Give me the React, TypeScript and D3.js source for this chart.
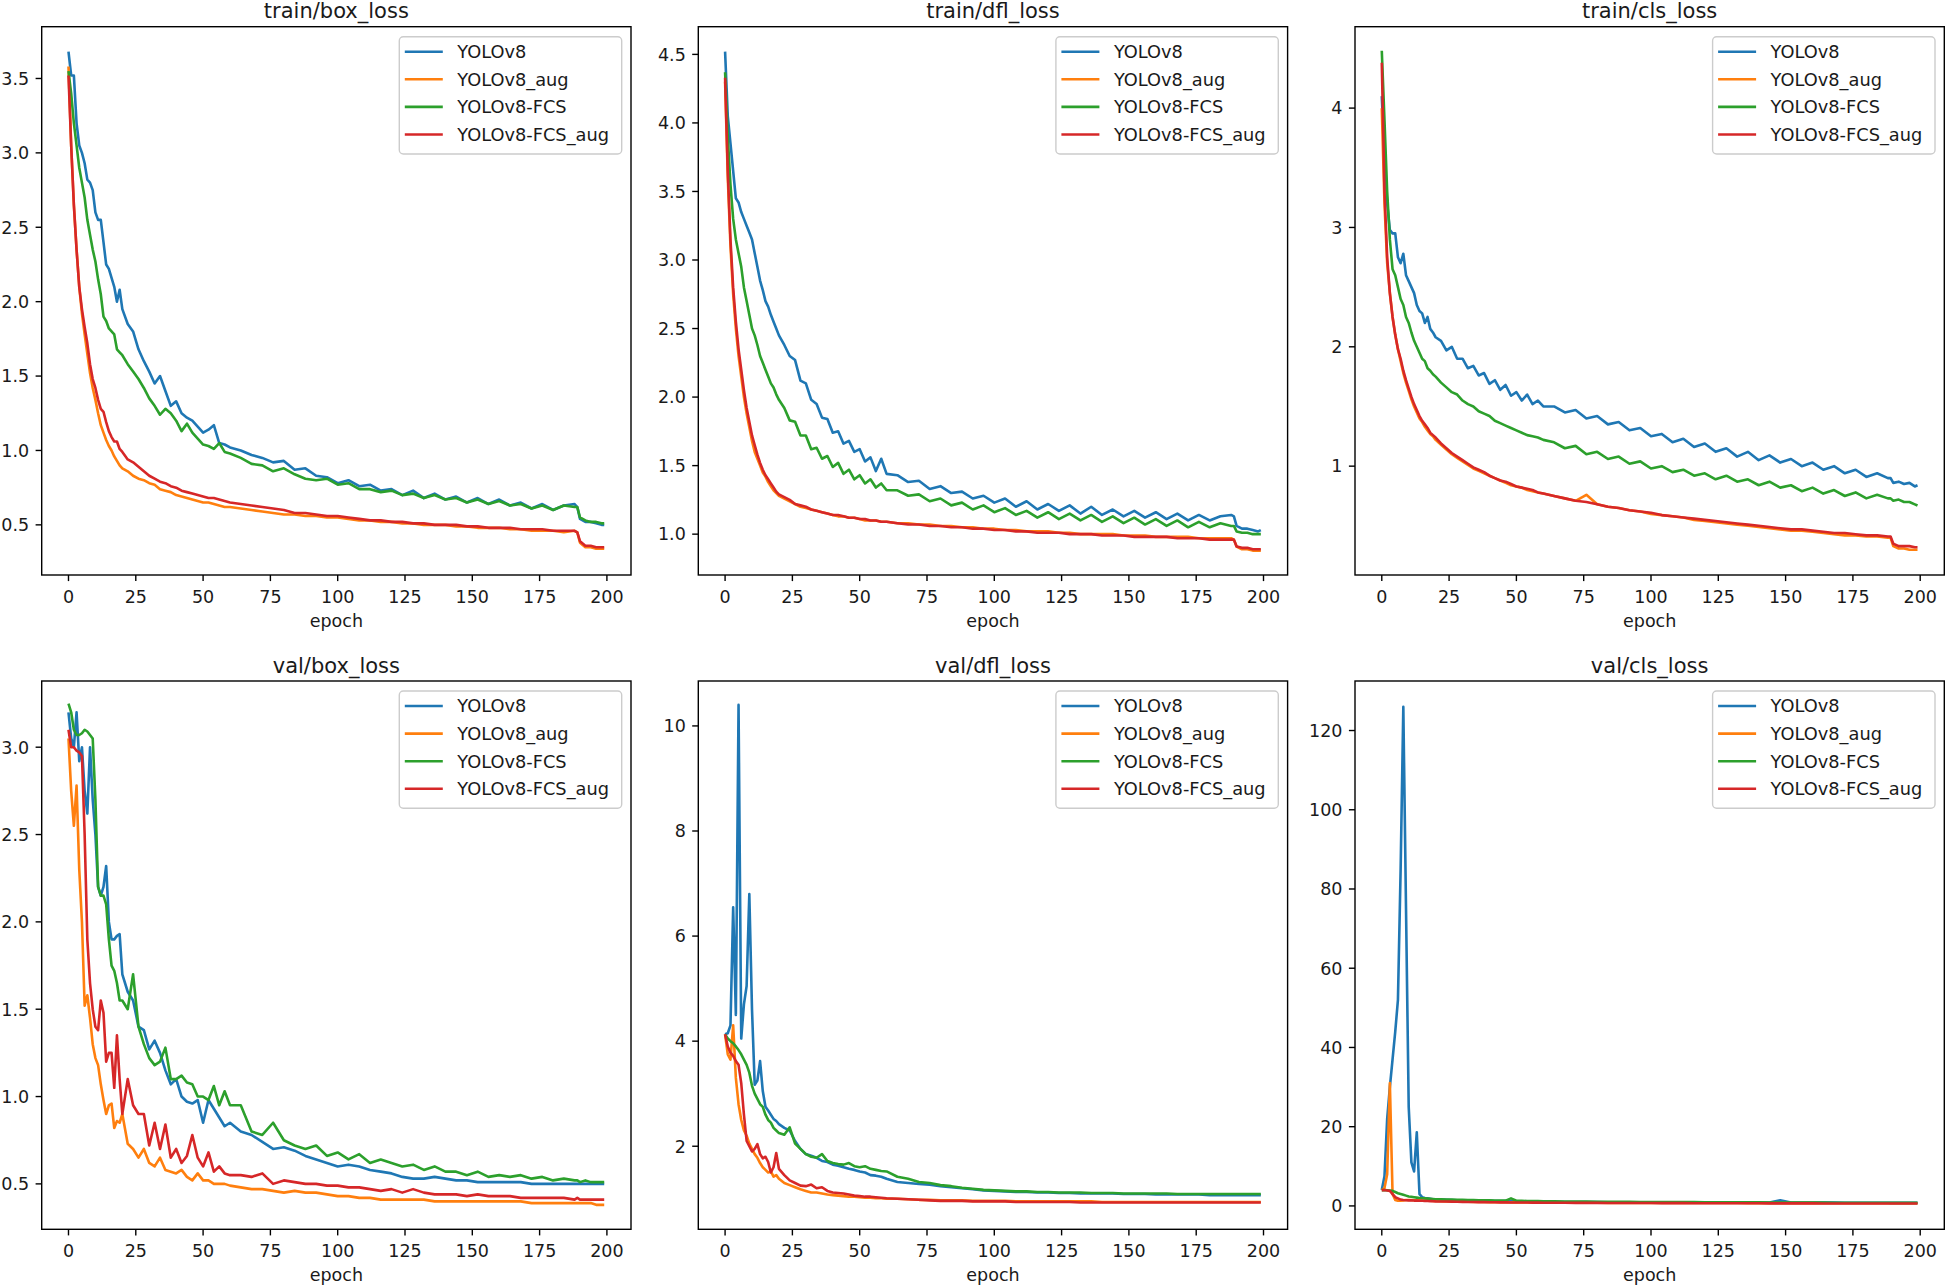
import * as d3 from "d3";

const EPOCHS = [
  0, 1, 2, 3, 4, 5, 6, 7, 8, 9, 10, 11, 12, 13, 14, 15, 16, 17, 18, 19, 20,
  22, 24, 26, 28, 30, 32, 34, 36, 38, 40, 42, 44, 46, 48, 50, 52, 54, 56, 58, 60,
  64, 68, 72, 76, 80, 84, 88, 92, 96, 100, 104, 108, 112, 116, 120, 124, 128, 132, 136, 140, 144, 148, 152, 156, 160, 164, 168, 172, 176, 180, 184, 188,
  189, 190, 192, 194, 196, 198, 199,
];

const SERIES_NAMES = ["YOLOv8", "YOLOv8_aug", "YOLOv8-FCS", "YOLOv8-FCS_aug"];
const SERIES_COLORS = ["#1f77b4", "#ff7f0e", "#2ca02c", "#d62728"];
const X_TICKS = [0, 25, 50, 75, 100, 125, 150, 175, 200];

// train/box_loss
const trainBoxV8 = [
  3.68, 3.52, 3.52, 3.2, 3.05, 3.0, 2.93, 2.82, 2.8, 2.75, 2.6, 2.55, 2.55, 2.4, 2.25, 2.22, 2.16, 2.1, 2.0, 2.08, 1.95,
  1.85, 1.8, 1.68, 1.6, 1.53, 1.45, 1.5, 1.4, 1.3, 1.33, 1.25, 1.22, 1.2, 1.16, 1.12, 1.14, 1.17, 1.05, 1.04, 1.02,
  1.0, 0.97, 0.95, 0.92, 0.93, 0.87, 0.88, 0.83, 0.82, 0.78, 0.8, 0.76, 0.77, 0.73, 0.74, 0.7, 0.73, 0.68, 0.71, 0.67, 0.69, 0.65, 0.68, 0.64, 0.67, 0.63, 0.65, 0.61, 0.64, 0.6, 0.63, 0.64,
  0.62, 0.54, 0.52, 0.52, 0.51, 0.5, 0.5,
];
const trainBoxAug = [
  3.58, 3.05, 2.65, 2.35, 2.1, 1.92, 1.78, 1.65, 1.52, 1.42, 1.34, 1.25, 1.17, 1.12, 1.07, 1.03, 1.0, 0.96, 0.93, 0.9, 0.88,
  0.86, 0.83, 0.81, 0.8, 0.78, 0.77, 0.74, 0.73, 0.72, 0.7, 0.69, 0.68, 0.67, 0.66, 0.65, 0.65, 0.64, 0.63, 0.62, 0.62,
  0.61, 0.6, 0.59, 0.58, 0.57, 0.57, 0.56, 0.56, 0.55, 0.55, 0.54, 0.53, 0.53, 0.52, 0.52, 0.51, 0.51, 0.5, 0.5, 0.5, 0.49, 0.49, 0.48, 0.48, 0.48, 0.47, 0.47, 0.46, 0.46, 0.46, 0.45, 0.46,
  0.45, 0.38, 0.35, 0.35, 0.34, 0.34, 0.34,
];
const trainBoxFcs = [
  3.55, 3.4, 3.2, 3.05, 2.9, 2.8, 2.7, 2.55, 2.45, 2.35, 2.27, 2.15, 2.05, 1.9, 1.87, 1.82, 1.8, 1.78, 1.68, 1.66, 1.64,
  1.58, 1.53, 1.48, 1.42, 1.35, 1.3, 1.24, 1.28, 1.25, 1.2, 1.13, 1.18, 1.12, 1.08, 1.04, 1.03, 1.01, 1.05, 0.99, 0.98,
  0.95, 0.91, 0.9, 0.86, 0.88, 0.84, 0.81, 0.8, 0.81, 0.77, 0.78, 0.74, 0.74, 0.72, 0.73, 0.7, 0.71, 0.68, 0.7, 0.67, 0.68, 0.65, 0.67, 0.64, 0.66, 0.63, 0.64, 0.61, 0.63, 0.6, 0.63, 0.62,
  0.62, 0.55, 0.53, 0.52, 0.52, 0.51, 0.51,
];
const trainBoxFcsAug = [
  3.52, 3.05, 2.65, 2.35, 2.1, 1.95, 1.83, 1.72, 1.58, 1.48, 1.42, 1.34, 1.28, 1.26, 1.19, 1.13, 1.09, 1.06, 1.06, 1.01, 0.99,
  0.94, 0.92, 0.89, 0.86, 0.83, 0.81, 0.79, 0.78, 0.76, 0.75, 0.73, 0.72, 0.71, 0.7, 0.69, 0.68, 0.68, 0.67, 0.66, 0.65,
  0.64, 0.63, 0.62, 0.61, 0.6, 0.58, 0.58, 0.57, 0.56, 0.56, 0.55, 0.54, 0.53, 0.53, 0.52, 0.52, 0.51, 0.51, 0.5, 0.5, 0.5, 0.49, 0.49, 0.48, 0.48, 0.48, 0.47, 0.47, 0.47, 0.46, 0.46, 0.46,
  0.45, 0.39, 0.36, 0.36, 0.35, 0.35, 0.35,
];

// train/dfl_loss
const trainDflV8 = [
  4.52, 4.05, 3.85, 3.65, 3.45, 3.42, 3.35, 3.3, 3.25, 3.2, 3.15, 3.05, 2.95, 2.85, 2.78, 2.7, 2.66, 2.6, 2.55, 2.5, 2.45,
  2.38, 2.3, 2.27, 2.12, 2.1, 1.98, 1.95, 1.85, 1.84, 1.74, 1.75, 1.66, 1.68, 1.6, 1.62, 1.53, 1.56, 1.46, 1.55, 1.44,
  1.43, 1.38, 1.39, 1.33, 1.35, 1.3, 1.31, 1.26, 1.28, 1.23, 1.26, 1.2, 1.24, 1.18, 1.22, 1.17, 1.21, 1.15, 1.2, 1.14, 1.18, 1.13, 1.17, 1.12, 1.16, 1.11, 1.15, 1.1, 1.14, 1.1, 1.13, 1.14,
  1.13, 1.06, 1.04, 1.04, 1.03, 1.02, 1.03,
];
const trainDflAug = [
  4.3, 3.6, 3.1, 2.75, 2.5, 2.3, 2.15, 2.0, 1.88, 1.78, 1.68, 1.6, 1.55, 1.5, 1.45, 1.42, 1.38, 1.35, 1.32, 1.3, 1.28,
  1.26, 1.24, 1.22, 1.2, 1.19, 1.18, 1.17, 1.16, 1.15, 1.14, 1.13, 1.13, 1.12, 1.12, 1.11, 1.1, 1.1, 1.1, 1.09, 1.09,
  1.08, 1.08, 1.07, 1.07, 1.06, 1.06, 1.05, 1.05, 1.04, 1.04, 1.03, 1.03, 1.02, 1.02, 1.02, 1.01, 1.01, 1.0, 1.0, 1.0, 1.0, 0.99, 0.99, 0.99, 0.98, 0.98, 0.98, 0.98, 0.97, 0.97, 0.97, 0.97,
  0.96, 0.91, 0.89, 0.89, 0.88, 0.88, 0.88,
];
const trainDflFcs = [
  4.37, 3.9, 3.55, 3.3, 3.15, 3.05, 2.95, 2.8, 2.7, 2.6, 2.5, 2.45, 2.38, 2.3, 2.25, 2.2, 2.15, 2.1, 2.07, 2.02, 1.98,
  1.92, 1.83, 1.82, 1.72, 1.72, 1.62, 1.63, 1.55, 1.57, 1.49, 1.52, 1.44, 1.47, 1.4, 1.43, 1.37, 1.4, 1.34, 1.37, 1.32,
  1.32, 1.28, 1.29, 1.24, 1.26, 1.21, 1.23, 1.18, 1.21, 1.16, 1.19, 1.14, 1.17, 1.12, 1.16, 1.11, 1.15, 1.1, 1.14, 1.09, 1.13, 1.08, 1.12, 1.07, 1.11, 1.06, 1.1, 1.05, 1.09, 1.05, 1.08, 1.06,
  1.06, 1.02, 1.01, 1.01, 1.0, 1.0, 1.0,
];
const trainDflFcsAug = [
  4.33, 3.65, 3.15, 2.8, 2.55, 2.35, 2.2, 2.05, 1.92, 1.82, 1.72, 1.65, 1.58, 1.52, 1.47, 1.43, 1.4, 1.37, 1.34, 1.31, 1.29,
  1.27, 1.25, 1.22, 1.21, 1.2, 1.18, 1.17, 1.16, 1.15, 1.14, 1.14, 1.13, 1.12, 1.12, 1.11, 1.11, 1.1, 1.1, 1.09, 1.09,
  1.08, 1.07, 1.07, 1.06, 1.06, 1.05, 1.05, 1.04, 1.04, 1.03, 1.03, 1.02, 1.02, 1.01, 1.01, 1.01, 1.0, 1.0, 1.0, 0.99, 0.99, 0.99, 0.98, 0.98, 0.98, 0.98, 0.97, 0.97, 0.97, 0.96, 0.96, 0.96,
  0.96, 0.91, 0.9, 0.9, 0.89, 0.89, 0.89,
];

// train/cls_loss
const trainClsV8 = [
  4.1, 3.6, 3.2, 2.98, 2.95, 2.95, 2.75, 2.7, 2.78, 2.6, 2.55, 2.5, 2.45, 2.35, 2.3, 2.28, 2.2, 2.25, 2.15, 2.12, 2.08,
  2.05, 1.97, 2.0, 1.9, 1.9, 1.82, 1.84, 1.76, 1.78, 1.69, 1.72, 1.64, 1.68, 1.59, 1.62, 1.55, 1.6, 1.52, 1.55, 1.5,
  1.5, 1.45, 1.47, 1.4, 1.42, 1.35, 1.37, 1.3, 1.32, 1.25, 1.27, 1.2, 1.23, 1.16, 1.19, 1.12, 1.15, 1.08, 1.12, 1.05, 1.09, 1.03, 1.06, 1.0, 1.03, 0.97, 1.0, 0.94, 0.97, 0.91, 0.94, 0.9,
  0.9, 0.86, 0.87, 0.85, 0.86, 0.83, 0.84,
];
const trainClsAug = [
  4.0, 3.2, 2.7, 2.45, 2.25, 2.1, 1.98, 1.88, 1.78, 1.7, 1.63, 1.56, 1.5, 1.45, 1.4, 1.37, 1.33, 1.3, 1.27, 1.25, 1.22,
  1.18, 1.14, 1.1, 1.07, 1.04, 1.01, 0.98, 0.96, 0.94, 0.92, 0.9, 0.88, 0.86, 0.84, 0.83, 0.82, 0.8, 0.79, 0.78, 0.77,
  0.75, 0.73, 0.71, 0.76, 0.68, 0.66, 0.65, 0.63, 0.62, 0.6, 0.59, 0.58, 0.57, 0.55, 0.54, 0.53, 0.52, 0.51, 0.5, 0.49, 0.48, 0.47, 0.46, 0.46, 0.45, 0.44, 0.43, 0.42, 0.42, 0.41, 0.41, 0.4,
  0.4, 0.33, 0.31, 0.31, 0.3, 0.3, 0.3,
];
const trainClsFcs = [
  4.48, 3.9, 3.3, 2.9, 2.65, 2.6, 2.5, 2.4, 2.35, 2.25, 2.2, 2.12, 2.05, 2.0, 1.95, 1.9, 1.88, 1.82, 1.8, 1.77, 1.75,
  1.7, 1.66, 1.62, 1.6, 1.55, 1.52, 1.5, 1.46, 1.44, 1.42, 1.38, 1.36, 1.34, 1.32, 1.3, 1.28, 1.26, 1.25, 1.24, 1.22,
  1.2, 1.15, 1.17, 1.1, 1.12, 1.06, 1.08, 1.02, 1.04, 0.98, 1.0, 0.95, 0.97, 0.92, 0.94, 0.89, 0.92, 0.87, 0.89, 0.84, 0.87, 0.82, 0.84, 0.79, 0.82, 0.77, 0.8, 0.75, 0.78, 0.73, 0.76, 0.73,
  0.73, 0.71, 0.72, 0.7, 0.7, 0.68, 0.67,
];
const trainClsFcsAug = [
  4.38, 3.3, 2.75, 2.45, 2.25, 2.1, 1.98, 1.9, 1.8, 1.72, 1.65, 1.58, 1.52, 1.47, 1.42, 1.38, 1.35, 1.32, 1.28, 1.26, 1.24,
  1.19, 1.15, 1.11, 1.08, 1.05, 1.02, 0.99, 0.97, 0.95, 0.92, 0.9, 0.88, 0.87, 0.85, 0.83, 0.82, 0.81, 0.8, 0.78, 0.77,
  0.75, 0.73, 0.71, 0.7, 0.68, 0.66, 0.65, 0.63, 0.62, 0.61, 0.59, 0.58, 0.57, 0.56, 0.55, 0.54, 0.53, 0.52, 0.51, 0.5, 0.49, 0.48, 0.47, 0.47, 0.46, 0.45, 0.44, 0.44, 0.43, 0.42, 0.42, 0.41,
  0.41, 0.35, 0.33, 0.33, 0.33, 0.32, 0.32,
];

// val/box_loss
const valBoxV8 = [
  3.2, 3.05, 3.0, 3.2, 2.92, 3.0, 2.75, 2.62, 3.0, 2.7, 2.5, 2.2, 2.15, 2.2, 2.32, 2.0, 1.9, 1.9, 1.92, 1.93, 1.7,
  1.6, 1.55, 1.4, 1.38, 1.27, 1.32, 1.25, 1.15, 1.07, 1.1, 1.0, 0.97, 0.96, 0.98, 0.85, 0.98, 0.93, 0.88, 0.83, 0.85,
  0.8, 0.78, 0.74, 0.7, 0.71, 0.69, 0.66, 0.64, 0.62, 0.6, 0.61, 0.6, 0.58, 0.57, 0.56, 0.54, 0.53, 0.53, 0.54, 0.53, 0.52, 0.52, 0.51, 0.51, 0.51, 0.51, 0.51, 0.5, 0.5, 0.5, 0.5, 0.5,
  0.5, 0.5, 0.5, 0.5, 0.5, 0.5, 0.5,
];
const valBoxAug = [
  3.05, 2.75, 2.55, 2.78, 2.3, 2.0, 1.52, 1.58, 1.45, 1.3, 1.22, 1.18, 1.07, 0.98, 0.9, 0.95, 0.96, 0.82, 0.86, 0.85, 0.9,
  0.73, 0.7, 0.65, 0.7, 0.62, 0.6, 0.65, 0.58, 0.57, 0.56, 0.58, 0.54, 0.52, 0.56, 0.52, 0.52, 0.5, 0.5, 0.5, 0.49,
  0.48, 0.47, 0.47, 0.46, 0.45, 0.46, 0.45, 0.45, 0.44, 0.43, 0.43, 0.42, 0.42, 0.41, 0.41, 0.41, 0.41, 0.41, 0.4, 0.4, 0.4, 0.4, 0.4, 0.4, 0.4, 0.4, 0.4, 0.39, 0.39, 0.39, 0.39, 0.39,
  0.39, 0.39, 0.39, 0.39, 0.38, 0.38, 0.38,
];
const valBoxFcs = [
  3.25, 3.2, 3.1, 3.07, 3.07, 3.08, 3.1, 3.09, 3.07, 3.05, 2.7, 2.2, 2.15, 2.15, 2.1, 1.9, 1.75, 1.72, 1.65, 1.55, 1.55,
  1.5, 1.7, 1.4, 1.3, 1.22, 1.18, 1.2, 1.28, 1.1, 1.1, 1.12, 1.08, 1.07, 1.0, 1.0, 0.98, 1.06, 0.95, 1.03, 0.95,
  0.95, 0.8, 0.78, 0.85, 0.75, 0.72, 0.7, 0.72, 0.66, 0.68, 0.64, 0.67, 0.62, 0.64, 0.62, 0.6, 0.61, 0.58, 0.6, 0.57, 0.57, 0.55, 0.57, 0.54, 0.55, 0.54, 0.55, 0.53, 0.54, 0.52, 0.53, 0.52,
  0.52, 0.51, 0.52, 0.51, 0.51, 0.51, 0.51,
];
const valBoxFcsAug = [
  3.1, 3.0, 3.0, 2.98, 2.97, 2.95, 2.5, 1.9, 1.65, 1.5, 1.4, 1.38, 1.55, 1.48, 1.2, 1.25, 1.25, 1.05, 1.35, 1.1, 0.9,
  1.1, 0.95, 0.9, 0.9, 0.72, 0.85, 0.7, 0.84, 0.65, 0.7, 0.62, 0.66, 0.78, 0.65, 0.6, 0.68, 0.57, 0.6, 0.56, 0.55,
  0.55, 0.54, 0.56, 0.5, 0.52, 0.51, 0.5, 0.5, 0.49, 0.49, 0.48, 0.48, 0.47, 0.46, 0.47, 0.45, 0.47, 0.45, 0.44, 0.44, 0.44, 0.43, 0.44, 0.43, 0.43, 0.43, 0.42, 0.42, 0.42, 0.42, 0.42, 0.41,
  0.42, 0.41, 0.41, 0.41, 0.41, 0.41, 0.41,
];

// val/dfl_loss
const valDflV8 = [
  4.13, 4.15, 4.3, 6.55, 4.5, 10.4, 4.05, 4.7, 5.05, 6.8, 4.6, 3.17, 3.25, 3.62, 3.05, 2.75, 2.68, 2.6, 2.52, 2.48, 2.42,
  2.35, 2.3, 2.1, 1.95, 1.85, 1.82, 1.78, 1.72, 1.7, 1.65, 1.63, 1.6, 1.57, 1.55, 1.52, 1.5, 1.45, 1.44, 1.42, 1.38,
  1.32, 1.3, 1.28, 1.27, 1.24, 1.22, 1.2, 1.18, 1.16, 1.15, 1.14, 1.13, 1.13, 1.12, 1.12, 1.11, 1.11, 1.1, 1.1, 1.1, 1.1, 1.09, 1.09, 1.09, 1.08, 1.08, 1.08, 1.08, 1.08, 1.07, 1.07, 1.07,
  1.07, 1.07, 1.07, 1.07, 1.07, 1.07, 1.07,
];
const valDflAug = [
  4.13, 3.75, 3.65, 4.3, 3.3, 2.8, 2.5, 2.3, 2.2, 2.05, 1.95, 1.85, 1.78, 1.68, 1.6, 1.55, 1.5, 1.52, 1.42, 1.45, 1.38,
  1.3, 1.26, 1.22, 1.18, 1.15, 1.12, 1.12, 1.1, 1.08, 1.07, 1.06, 1.05, 1.04, 1.04, 1.03, 1.02, 1.02, 1.01, 1.01, 1.0,
  1.0, 0.99, 0.98, 0.98, 0.97, 0.97, 0.97, 0.96, 0.96, 0.96, 0.96, 0.95, 0.95, 0.95, 0.95, 0.95, 0.95, 0.95, 0.95, 0.94, 0.94, 0.94, 0.94, 0.94, 0.94, 0.94, 0.94, 0.94, 0.94, 0.94, 0.94, 0.94,
  0.94, 0.94, 0.94, 0.94, 0.94, 0.94, 0.94,
];
const valDflFcs = [
  4.13, 4.05, 4.0, 3.96, 3.9, 3.83, 3.75, 3.65, 3.55, 3.4, 3.15, 3.0, 2.9, 2.8, 2.75, 2.6, 2.5, 2.45, 2.35, 2.3, 2.25,
  2.22, 2.36, 2.05, 1.95, 1.85, 1.8, 1.78, 1.85, 1.72, 1.68, 1.66, 1.65, 1.68, 1.62, 1.6, 1.62, 1.57, 1.55, 1.53, 1.52,
  1.42, 1.38, 1.32, 1.3, 1.26, 1.24, 1.21, 1.19, 1.17, 1.16, 1.15, 1.14, 1.14, 1.13, 1.13, 1.12, 1.12, 1.12, 1.11, 1.11, 1.11, 1.1, 1.1, 1.1, 1.1, 1.1, 1.09, 1.09, 1.09, 1.09, 1.09, 1.09,
  1.09, 1.09, 1.09, 1.09, 1.09, 1.09, 1.09,
];
const valDflFcsAug = [
  4.13, 3.9, 3.78, 3.72, 3.62, 3.55, 3.2, 2.6, 2.1, 2.0, 1.9, 1.95, 2.04, 1.85, 1.77, 1.8, 1.7, 1.5, 1.6, 1.87, 1.57,
  1.45, 1.35, 1.3, 1.25, 1.24, 1.27, 1.2, 1.22, 1.15, 1.12, 1.11, 1.1, 1.08, 1.06, 1.05, 1.04, 1.04, 1.03, 1.02, 1.01,
  1.0, 0.99, 0.98, 0.97, 0.96, 0.96, 0.96, 0.95, 0.95, 0.95, 0.95, 0.94, 0.94, 0.94, 0.94, 0.94, 0.94, 0.93, 0.93, 0.93, 0.93, 0.93, 0.93, 0.93, 0.93, 0.93, 0.93, 0.93, 0.93, 0.93, 0.93, 0.93,
  0.93, 0.93, 0.93, 0.93, 0.93, 0.93, 0.93,
];

// val/cls_loss
const valClsV8 = [
  4.0, 7.5, 22, 30, 37, 44, 52, 85, 126, 75, 25, 11, 8.7, 18.6, 3.0, 2.2, 2.0, 1.9, 1.8, 1.7, 1.65,
  1.6, 1.55, 1.5, 1.45, 1.4, 1.38, 1.35, 1.32, 1.3, 1.28, 1.25, 1.22, 1.2, 1.18, 1.15, 1.12, 1.1, 1.08, 1.06, 1.05,
  1.02, 1.0, 0.98, 0.96, 0.95, 0.94, 0.93, 0.92, 0.91, 0.9, 0.9, 0.89, 0.88, 0.88, 0.87, 0.87, 0.86, 0.86, 0.85, 0.85, 0.85, 1.4, 0.84, 0.84, 0.83, 0.83, 0.83, 0.82, 0.82, 0.82, 0.81, 0.81,
  0.81, 0.8, 0.8, 0.8, 0.8, 0.8, 0.8,
];
const valClsAug = [
  4.0, 4.5, 8.0, 31, 3.0, 1.5, 1.3, 1.3, 1.4, 1.5, 1.5, 1.5, 1.45, 1.4, 1.4, 1.35, 1.35, 1.3, 1.3, 1.25, 1.25,
  1.2, 1.15, 1.12, 1.1, 1.08, 1.05, 1.02, 1.0, 0.98, 0.96, 0.95, 0.93, 0.92, 0.9, 0.9, 0.88, 0.87, 0.86, 0.85, 0.85,
  0.83, 0.82, 0.81, 0.8, 0.79, 0.78, 0.77, 0.77, 0.76, 0.75, 0.75, 0.74, 0.74, 0.73, 0.73, 0.72, 0.72, 0.72, 0.71, 0.71, 0.71, 0.7, 0.7, 0.7, 0.7, 0.69, 0.69, 0.69, 0.69, 0.68, 0.68, 0.68,
  0.68, 0.68, 0.67, 0.67, 0.67, 0.67, 0.67,
];
const valClsFcs = [
  4.0, 4.0, 3.95, 3.9, 3.8, 3.5, 3.2, 3.0, 2.8, 2.6, 2.4, 2.3, 2.2, 2.1, 2.0, 1.95, 1.9, 1.85, 1.8, 1.75, 1.7,
  1.65, 1.6, 1.58, 1.55, 1.52, 1.5, 1.48, 1.45, 1.42, 1.4, 1.38, 1.35, 1.33, 1.9, 1.3, 1.28, 1.25, 1.22, 1.2, 1.18,
  1.15, 1.12, 1.1, 1.08, 1.06, 1.05, 1.03, 1.02, 1.0, 0.99, 0.98, 0.97, 0.96, 0.95, 0.94, 0.93, 0.92, 0.91, 0.9, 0.89, 0.88, 0.87, 0.86, 0.85, 0.84, 0.83, 0.82, 0.81, 0.8, 0.8, 0.79, 0.79,
  0.78, 0.78, 0.78, 0.77, 0.77, 0.77, 0.77,
];
const valClsFcsAug = [
  4.0, 4.0, 3.9, 3.8, 3.0, 2.2, 1.9, 1.6, 1.5, 1.45, 1.4, 1.4, 1.35, 1.35, 1.3, 1.3, 1.25, 1.25, 1.2, 1.2, 1.15,
  1.12, 1.1, 1.08, 1.05, 1.03, 1.0, 0.98, 0.96, 0.95, 0.93, 0.92, 0.9, 0.89, 0.88, 0.87, 0.86, 0.85, 0.84, 0.83, 0.82,
  0.8, 0.79, 0.78, 0.77, 0.76, 0.75, 0.74, 0.73, 0.72, 0.72, 0.71, 0.7, 0.7, 0.69, 0.68, 0.68, 0.67, 0.67, 0.66, 0.66, 0.65, 0.65, 0.65, 0.64, 0.64, 0.63, 0.63, 0.63, 0.62, 0.62, 0.62, 0.62,
  0.61, 0.61, 0.61, 0.61, 0.6, 0.6, 0.6,
];

const PANEL_TITLES = [
  "train/box_loss", "train/dfl_loss", "train/cls_loss",
  "val/box_loss", "val/dfl_loss", "val/cls_loss",
];
const PANEL_SERIES = [
  [trainBoxV8, trainBoxAug, trainBoxFcs, trainBoxFcsAug],
  [trainDflV8, trainDflAug, trainDflFcs, trainDflFcsAug],
  [trainClsV8, trainClsAug, trainClsFcs, trainClsFcsAug],
  [valBoxV8, valBoxAug, valBoxFcs, valBoxFcsAug],
  [valDflV8, valDflAug, valDflFcs, valDflFcsAug],
  [valClsV8, valClsAug, valClsFcs, valClsFcsAug],
];
// y-axis limits as shown in the reference
const Y_DOMAINS = [
  [0.163, 3.848], [0.702, 4.702], [0.088, 4.682],
  [0.24, 3.379], [0.419, 10.855], [-5.9, 132.5],
];
const Y_TICKS = [
  [0.5, 1.0, 1.5, 2.0, 2.5, 3.0, 3.5],
  [1.0, 1.5, 2.0, 2.5, 3.0, 3.5, 4.0, 4.5],
  [1, 2, 3, 4],
  [0.5, 1.0, 1.5, 2.0, 2.5, 3.0],
  [2, 4, 6, 8, 10],
  [0, 20, 40, 60, 80, 100, 120],
];
const Y_TICK_DIGITS = [1, 1, 0, 1, 0, 0];

// layout
const WIDTH = 1949;
const HEIGHT = 1285;
const COL_X = [41.7, 698.3, 1355];
const ROW_Y = [26.7, 681];
const PW = 589.3;
const PH = 548.3;
const FONT = "'DejaVu Sans', sans-serif";
const TEXT = "#1a1a1a";

function Panel({ index }: { index: number }) {
  const left = COL_X[index % 3];
  const top = ROW_Y[Math.floor(index / 3)];
  const x = d3.scaleLinear().domain([-9.95, 208.95]).range([0, PW]);
  const y = d3.scaleLinear().domain(Y_DOMAINS[index]).range([PH, 0]);
  const line = d3
    .line<number>()
    .x((_, i) => x(EPOCHS[i]))
    .y((d) => y(d));
  const fmt = d3.format(`.${Y_TICK_DIGITS[index]}f`);
  const clipId = `clip-${index}`;

  // legend box in the upper right corner
  const lgW = 222.4;
  const lgH = 117.3;
  const lgX = PW - lgW - 9.3;
  const lgY = 10;

  return (
    <g transform={`translate(${left},${top})`}>
      <defs>
        <clipPath id={clipId}>
          <rect x={0} y={0} width={PW} height={PH} />
        </clipPath>
      </defs>
      <text
        x={PW / 2}
        y={-8.5}
        textAnchor="middle"
        fontFamily={FONT}
        fontSize={21}
        fill={TEXT}
      >
        {PANEL_TITLES[index]}
      </text>

      <g clipPath={`url(#${clipId})`}>
        {PANEL_SERIES[index].map((values, s) => (
          <path
            key={s}
            d={line(values) ?? ""}
            fill="none"
            stroke={SERIES_COLORS[s]}
            strokeWidth={2.6}
            strokeLinejoin="round"
          />
        ))}
      </g>

      {/* x axis */}
      {X_TICKS.map((t) => (
        <g key={t} transform={`translate(${x(t)},${PH})`}>
          <line y2={6.1} stroke="#000" strokeWidth={1.4} />
          <text
            y={28}
            textAnchor="middle"
            fontFamily={FONT}
            fontSize={17.5}
            fill={TEXT}
          >
            {t}
          </text>
        </g>
      ))}
      <text
        x={PW / 2}
        y={PH + 52}
        textAnchor="middle"
        fontFamily={FONT}
        fontSize={17.5}
        fill={TEXT}
      >
        epoch
      </text>

      {/* y axis */}
      {Y_TICKS[index].map((t) => (
        <g key={t} transform={`translate(0,${y(t)})`}>
          <line x2={-6.1} stroke="#000" strokeWidth={1.4} />
          <text
            x={-12.5}
            y={6.3}
            textAnchor="end"
            fontFamily={FONT}
            fontSize={17.5}
            fill={TEXT}
          >
            {fmt(t)}
          </text>
        </g>
      ))}

      <rect
        x={0}
        y={0}
        width={PW}
        height={PH}
        fill="none"
        stroke="#000"
        strokeWidth={1.4}
      />

      {/* legend */}
      <g transform={`translate(${lgX},${lgY})`}>
        <rect
          width={lgW}
          height={lgH}
          rx={4}
          fill="#fff"
          fillOpacity={0.8}
          stroke="#cccccc"
          strokeWidth={1.4}
        />
        {SERIES_NAMES.map((name, s) => {
          const cy = 15 + s * 27.6;
          return (
            <g key={name}>
              <line
                x1={5.5}
                x2={43.5}
                y1={cy}
                y2={cy}
                stroke={SERIES_COLORS[s]}
                strokeWidth={2.6}
              />
              <text
                x={58}
                y={cy + 6.4}
                fontFamily={FONT}
                fontSize={17.8}
                fill={TEXT}
              >
                {name}
              </text>
            </g>
          );
        })}
      </g>
    </g>
  );
}

export default function App() {
  return (
    <svg
      width={WIDTH}
      height={HEIGHT}
      style={{ position: "absolute", left: 0, top: 0, background: "#fff" }}
    >
      <rect width={WIDTH} height={HEIGHT} fill="#fff" />
      {PANEL_TITLES.map((_, i) => (
        <Panel key={i} index={i} />
      ))}
    </svg>
  );
}
